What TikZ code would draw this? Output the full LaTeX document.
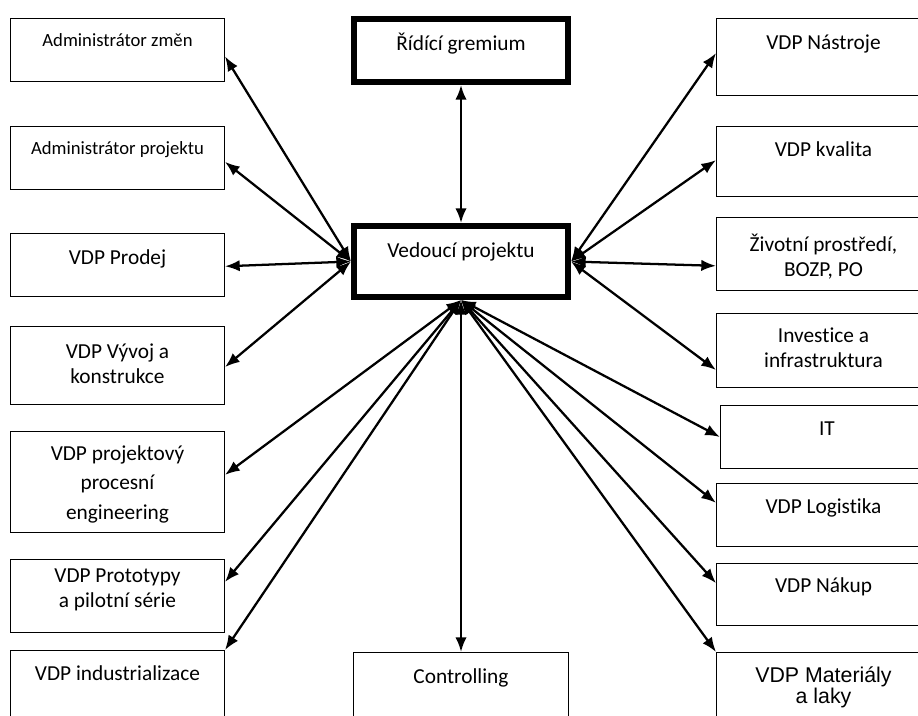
\documentclass[tikz,border=0pt]{standalone}
\usepackage{fontspec}
\setmainfont{Carlito}[Ligatures=NoCommon]
\newfontfamily\arialfont{Liberation Sans}
\usetikzlibrary{calc,arrows.meta}

\begin{document}
\begin{tikzpicture}[x=0.75pt, y=-0.75pt,
		box/.style = {draw, line width=1.1pt, anchor=north west, inner sep=0pt},
		boss/.style = {draw, line width=4.5pt, anchor=north west, inner sep=0pt, minimum width=160.5pt},
		txt/.style = {anchor=base, align=center, inner sep=0pt, font=\fontsize{16}{18.75}\selectfont},
		small/.style = {font=\fontsize{14}{17}\selectfont},
		conn/.style = {{Latex[length=11pt,width=8.5pt]}-{Latex[length=11pt,width=8.5pt]}, line width=1.7pt}
	]
	\useasboundingbox (0,0) rectangle (918,715);
	\clip (0,0) rectangle (918,715);
	% boxes
	\foreach \n/\x/\y/\w/\h in {zmen/10/18/215/64, admproj/10/126/215/64, prodej/10/233/215/64, vyvoj/10/326/215/79, projekt/10/431/215/102, proto/10/559/215/74, ind/10/650/215/90, ctrl/353/652/216/90, nastroje/716/18/215/78, kvalita/716/126/215/71, zivot/716/217/215/74, invest/716/313/215/75, it/720/405/215/64, logist/716/483/215/64, nakup/716/563/215/63, mat/716/652/215/90}
		\node[box, minimum width=\w*0.75pt-1.1pt, minimum height=\h*0.75pt-1.1pt] (\n) at (\x,\y) {};
	\node[boss, minimum height=69*0.75pt-4.5pt] (rid) at (351,16) {};
	\node[boss, minimum height=77*0.75pt-4.5pt] (ved) at (351,223) {};
	% texts (base = last line)
	\node[txt, small] (zmen-t) at (117.5,46) {Administrátor změn};
	\node[txt, small] (admproj-t) at (117.5,154) {Administrátor projektu};
	\node[txt] (prodej-t) at (117.5,264) {VDP Prodej};
	\node[txt] (vyvoj-t) at (117.5,383) {VDP Vývoj a\\konstrukce};
	\node[txt, font=\fontsize{16}{22}\selectfont] (projekt-t) at (117.5,519) {VDP projektový\\procesní\\engineering};
	\node[txt] (proto-t) at (117.5,607) {VDP Prototypy\\a pilotní série};
	\node[txt] (ind-t) at (117.5,680) {VDP industrializace};
	\node[txt] (rid-t) at (461,50) {Řídící gremium};
	\node[txt] (ved-t) at (461,257) {Vedoucí projektu};
	\node[txt] (ctrl-t) at (461,683) {Controlling};
	\node[txt] (nastroje-t) at (823.5,49) {VDP Nástroje};
	\node[txt] (kvalita-t) at (823.5,156) {VDP kvalita};
	\node[txt] (zivot-t) at (823.5,276) {Životní prostředí,\\BOZP, PO};
	\node[txt] (invest-t) at (823.5,367) {Investice a\\infrastruktura};
	\node[txt] (it-t) at (827,435) {IT};
	\node[txt] (logist-t) at (823.5,513) {VDP Logistika};
	\node[txt] (nakup-t) at (823.5,592) {VDP Nákup};
	\node[txt, font=\arialfont\fontsize{16}{15.75}\selectfont] (mat-t) at (823.5,703) {VDP Materiály\\a laky};
	% connectors
	\draw[conn] (rid) -- (ved);
	\foreach \n/\f in {zmen/.6, admproj/.56, prodej/.52, vyvoj/.52}
		\draw[conn] (ved.west) -- ($(\n.north east)!\f!(\n.south east)$);
	\foreach \n/\f in {projekt/.43, proto/.31, ind/0}
		\draw[conn] (ved.south) -- ($(\n.north east)!\f!(\n.south east)$);
	\draw[conn] (ved.south) -- (ctrl.north);
	\foreach \n/\f in {it/.5, logist/.31, nakup/.32, mat/0}
		\draw[conn] (ved.south) -- ($(\n.north west)!\f!(\n.south west)$);
	\foreach \n/\f in {nastroje/.45, kvalita/.48, zivot/.66, invest/.76}
		\draw[conn] (ved.east) -- ($(\n.north west)!\f!(\n.south west)$);
\end{tikzpicture}
\end{document}
